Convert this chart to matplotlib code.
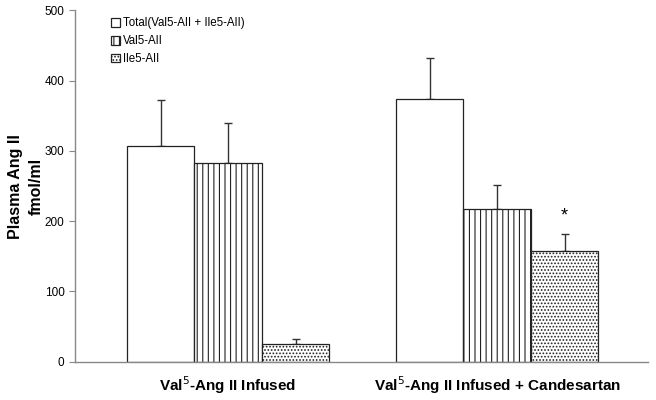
import numpy as np
import matplotlib.pyplot as plt

groups = ['Val$^5$-Ang II Infused', 'Val$^5$-Ang II Infused + Candesartan']
series = ['Total(Val5-AII + Ile5-AII)', 'Val5-AII', 'Ile5-AII']
means = {
    'Total(Val5-AII + Ile5-AII)': [307, 374],
    'Val5-AII': [283, 217],
    'Ile5-AII': [25, 157],
}
sems = {
    'Total(Val5-AII + Ile5-AII)': [65, 58],
    'Val5-AII': [57, 34],
    'Ile5-AII': [7, 25],
}
hatches = ['', '|||', '.....']

plt.rcParams['font.family'] = ['Liberation Sans', 'DejaVu Sans']
plt.rcParams['hatch.linewidth'] = 0.8

fig = plt.figure(figsize=(6.56, 4.0), dpi=100)
ax = fig.add_axes([0.1143, 0.0958, 0.8737, 0.878])

x = np.arange(len(groups))
w = 0.251
for i, s in enumerate(series):
    pos = x + (i - 1) * w
    ax.bar(pos, means[s], w, color='white', edgecolor='#222222', linewidth=0.9,
           hatch=hatches[i], label=s, zorder=2)
    ax.errorbar(pos, means[s], yerr=[np.zeros(len(groups)), sems[s]], fmt='none',
                ecolor='#333333', elinewidth=1, capsize=3, capthick=1, zorder=1)

ax.text(x[1] + w, 207, '*', ha='center', va='center', fontsize=13)

ax.set_xlim(-0.569, 1.561)
ax.set_ylim(0, 500)
ax.set_yticks(range(0, 501, 100))
ax.tick_params(axis='y', labelsize=8.5, color='#888888', length=4, direction='out')
ax.set_xticks(x)
ax.set_xticklabels(groups, fontsize=11, fontweight='bold')
ax.tick_params(axis='x', length=0, pad=9)
for sp in ['top', 'right']:
    ax.spines[sp].set_visible(False)
for sp in ['left', 'bottom']:
    ax.spines[sp].set_color('#888888')
    ax.spines[sp].set_linewidth(1)

ax.set_ylabel('Plasma Ang II\nfmol/ml', fontsize=11.5, fontweight='bold', labelpad=0.5,
              linespacing=1.5)

ax.legend(loc='upper left', bbox_to_anchor=(0.05, 1.0), frameon=False, fontsize=8.3,
          handlelength=0.8, handleheight=0.8, handletextpad=0.3, labelspacing=0.5,
          borderaxespad=0.2)

fig.savefig('out.png', dpi=100)
